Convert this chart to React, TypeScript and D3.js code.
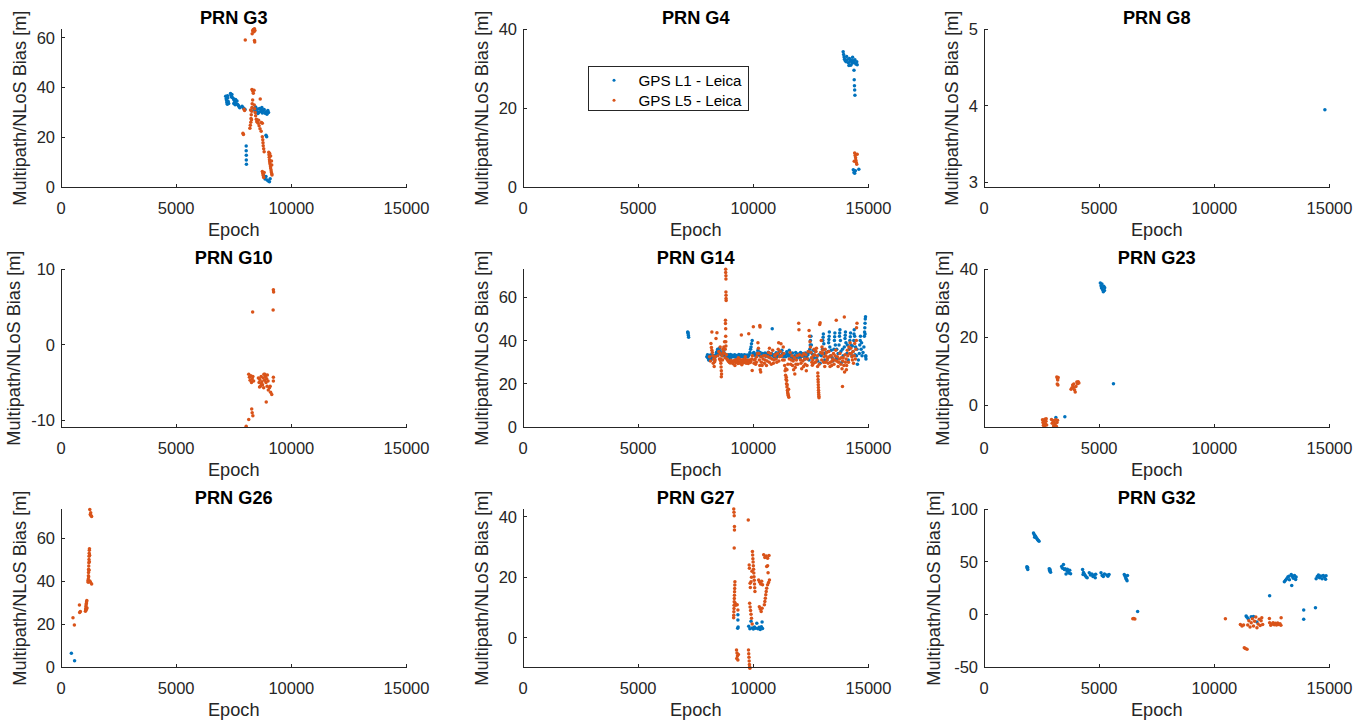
import React from "react";
import * as d3 from "d3";

const W = 1367;
const H = 726;
const FONT = "'Liberation Sans', Arial, Helvetica, sans-serif";
const AXIS = "#262626";
const L1_COLOR = "#0072BD";
const L5_COLOR = "#D95319";

type Pt = [number, number];

// ---- satellite titles, axis limits and ticks ----
const panelTitles = ["PRN G3", "PRN G4", "PRN G8", "PRN G10", "PRN G14", "PRN G23", "PRN G26", "PRN G27", "PRN G32"];
const yDomains: [number, number][] = [
  [0, 63.4], [0, 40], [2.94, 5],
  [-10.9, 10], [0, 73], [-6.3, 40],
  [0, 73.4], [-9.6, 42.4], [-50, 100],
];
const yTickValues = [
  [0, 20, 40, 60], [0, 20, 40], [3, 4, 5],
  [-10, 0, 10], [0, 20, 40, 60], [0, 20, 40],
  [0, 20, 40, 60], [0, 20, 40], [-50, 0, 50, 100],
];
const xDomain: [number, number] = [0, 15000];
const xTickValues = [0, 5000, 10000, 15000];
const seriesNames = ["GPS L1 - Leica", "GPS L5 - Leica"];

// ---- multipath / NLoS bias samples [epoch, metres] ----
const g3L1: Pt[] = [
  [7150, 36.5], [7170, 35.5], [7190, 34.8], [7200, 34], [7220, 33.3], [7240, 35.8], [7260, 34.4], [7280, 33.6], [7230, 36.7],
  [7360, 37.6], [7380, 36.8], [7400, 36.2], [7420, 37.2], [7450, 35.9],
  [7490, 35.5], [7520, 34.9], [7550, 34.2], [7580, 35.2], [7610, 33.5], [7640, 34.6], [7670, 33.2], [7700, 32.8], [7730, 32.3], [7760, 31.9], [7500, 33.6], [7560, 33.1],
  [7860, 32.5], [7900, 32], [7950, 31.5], [7990, 31.2],
  [8040, 16.5], [8040, 14.6], [8045, 12.8], [8045, 10.9], [8050, 9.1],
  [8370, 31.5], [8420, 30.8], [8460, 31.8], [8500, 30.2], [8540, 31.3], [8580, 30], [8620, 31.6], [8660, 30.4], [8700, 31], [8740, 29.8],
  [8780, 30.6], [8820, 31.2], [8860, 29.6], [8900, 30.3], [8940, 29.2], [8980, 30.8], [9010, 30], [8450, 32.2], [8550, 29.5], [8720, 32],
  [8900, 20.8], [8930, 20.2],
  [8800, 4.6], [8830, 3.9], [8860, 3.2], [8900, 4.2], [8950, 2.8], [9000, 2.4], [9050, 2.1], [9080, 3.3],
];
const g3L5: Pt[] = [
  [8300, 61.6], [8320, 62.8], [8350, 63.3], [8380, 62.4], [8400, 63.6], [8420, 62.9], [8000, 59.1], [8400, 58.9], [8410, 58.3],
  [8290, 39.2], [8320, 38.6], [8350, 37.7], [8380, 38.9], [8650, 35.4],
  [8320, 35], [8300, 33.5], [8290, 32], [8280, 30.5], [8260, 29], [8250, 27.5], [8240, 26], [8220, 24.8], [8200, 23.6], [8230, 31], [8270, 27],
  [8390, 33], [8410, 31.5], [8430, 30], [8450, 28.6], [8480, 27.2], [8500, 26.2],
  [8520, 26.9], [8560, 25.6], [8600, 24.6], [8640, 23.4], [8690, 22.4], [8580, 26.8], [8700, 25.9], [8740, 25.6],
  [7900, 21.6], [7920, 21.1], [7950, 31.3], [7970, 30.8],
  [8740, 20.2], [8760, 19], [8770, 17.8], [8780, 16.6], [8800, 15.4], [8820, 14.2],
  [9020, 14], [9030, 13], [9040, 12], [9050, 11], [9060, 10.2], [9070, 9.3], [9090, 8.4], [9100, 7.6], [9120, 6.8], [9130, 6], [9150, 5.3], [9160, 4.8],
  [9060, 13.5], [9100, 12.5], [9140, 10.5], [9150, 8.8],
  [8740, 6.2], [8760, 5.4], [8780, 4.6], [8800, 3.8], [8820, 5.8],
];

const g4L1: Pt[] = [
  [13900, 34.3], [13920, 33.6], [13940, 33], [13960, 32.4], [13990, 32], [14030, 31.8], [14080, 32.3], [14130, 31.5], [14170, 32.6], [14210, 31.9],
  [14250, 32.2], [14290, 31.4], [14330, 32], [14370, 31.6], [14410, 32.3], [14450, 31.2], [14490, 31.8], [14510, 31], [14050, 33.1], [14150, 30.8],
  [14230, 30.9], [14310, 32.9],
  [14370, 29.6], [14380, 27.2], [14390, 25.7], [14400, 24.6], [14410, 23.3],
  [14340, 4.4], [14370, 3.7], [14400, 3.5], [14430, 4.1], [14580, 4.5],
];
const g4L5: Pt[] = [
  [14400, 8.6], [14420, 8], [14440, 7.4], [14450, 6.8], [14470, 6.2], [14490, 5.8], [14510, 8.3], [14380, 6.5],
];

const g8L1: Pt[] = [[14800, 3.95]];
const g8L5: Pt[] = [];

const g10L1: Pt[] = [];
const g10L5: Pt[] = [
  [9220, 7.3], [9230, 7.0], [9210, 4.6], [8320, 4.35],
  [8150, -3.9], [8180, -4.3], [8210, -4.7], [8240, -4.1], [8270, -5], [8300, -4.5], [8330, -4.2], [8360, -4.8],
  [8570, -4.4], [8600, -5], [8630, -4.6], [8660, -5.5], [8690, -4.2], [8720, -4.9], [8750, -5.3], [8780, -4.4], [8810, -3.9], [8840, -4.7],
  [8870, -4.2], [8900, -5], [8930, -4.5], [8960, -4], [8990, -4.8], [8620, -5.6], [8700, -5.2], [8800, -5.7], [8850, -3.9],
  [8950, -5.5], [9000, -6], [9050, -5.7], [9100, -6.3], [9150, -6.6], [9080, -5.5],
  [8910, -7.6], [9220, -4.3], [9220, -4.8],
  [8280, -8.5], [8300, -9], [8330, -9.4], [8150, -9.9], [8040, -10.8],
];

const g14L1: Pt[] = [
  [7150, 44], [7170, 43.2], [7180, 42.4], [7190, 41.6], [7160, 43.8],
  [7980, 32.5], [8040, 31.8], [8100, 33.2], [8160, 32.1], [8220, 31.5], [8280, 33], [8340, 32.4], [8400, 34.5], [8450, 36], [8500, 33.8],
  [8560, 35.2], [8620, 33.4], [8680, 34], [8740, 33.1], [8800, 32.6], [8860, 32.2], [8920, 33.5], [8980, 32.8], [9040, 32.3], [9100, 33.2],
  [9160, 32.9], [9220, 32.4], [9280, 33.1], [9340, 32.7], [9400, 33.3], [9460, 32.5], [9520, 33], [9580, 32.6], [9640, 33.2], [9700, 32.8],
  [9760, 32.4], [9820, 33.5], [9880, 36], [9920, 38.5], [9950, 40], [9980, 34],
  [8060, 31], [8120, 30.8], [9000, 31.4], [9300, 31.8],
  [8010, 33.4], [8070, 32.6], [8130, 32], [8190, 33.6], [8250, 32.3], [8310, 31.9], [8370, 33.5], [8430, 35], [8470, 34.2], [8530, 36.5],
  [8590, 34.3], [8650, 33], [8710, 35], [8770, 33.8], [8830, 33.4], [8890, 33], [8950, 32.4], [9010, 33.6], [9070, 32.9], [9130, 32.5],
  [9190, 33.5], [9250, 33], [9310, 32.6], [9370, 33.6], [9430, 32.9], [9490, 33.4], [9550, 32.8], [9610, 33.5], [9670, 32.6], [9730, 33.3],
  [9790, 33], [9850, 34.5], [9900, 37],
  [10050, 33.5], [10120, 32.8], [10200, 35.5], [10260, 33.2], [10330, 32.6], [10400, 34], [10470, 33.1], [10540, 32.7], [10610, 33.8],
  [10680, 32.5], [10750, 33.3], [10820, 45.5], [10880, 32.8], [10950, 33.6], [11020, 32.4], [11100, 34.2], [11170, 33], [11240, 35.5],
  [11310, 32.6], [11380, 33.4], [11450, 34.8], [11520, 32.9], [11600, 33.7], [11670, 32.3], [11740, 31.5], [11810, 33], [11880, 32.2],
  [11950, 33.8], [12020, 31.8], [12090, 32.6], [12160, 34], [12230, 31.4], [12300, 32.8], [12370, 33.5],
  [10020, 34.5], [10090, 33.4], [10160, 34.2], [10230, 33.7], [10300, 34.5], [10370, 32.9], [10440, 33.6], [10510, 34.3], [10580, 33.2],
  [10650, 34.6], [10720, 32.2], [10790, 34], [10850, 33.5], [10920, 32.4], [10990, 34.4], [11060, 33.2], [11130, 35], [11200, 32.8],
  [11270, 34], [11340, 33], [11410, 32.5], [11480, 33.9], [11560, 35.5], [11630, 32.8], [11700, 34.2], [11770, 32.8], [11840, 34.5],
  [11910, 33.2], [11980, 32.9], [12050, 34.5], [12120, 33.3], [12190, 32.7], [12260, 34.2], [12330, 31.9], [12400, 34.5],
  [12450, 36], [12480, 40], [12500, 42], [12520, 38], [12470, 38], [12420, 31], [12560, 33.8], [12600, 35.5], [12640, 32],
  [12700, 35], [12750, 32], [12800, 30.5], [12850, 33.5], [12900, 29.5], [12950, 33],
  [13000, 36], [13020, 40], [13040, 43], [13060, 38.5], [13080, 34], [13030, 41.5], [13100, 31], [13150, 34.5],
  [13200, 31], [13250, 35], [13270, 39], [13290, 42], [13300, 44], [13320, 37], [13350, 33], [13280, 40.5], [13380, 35.5], [13420, 32],
  [13450, 30.5], [13500, 36], [13520, 40], [13540, 43.5], [13560, 38], [13600, 32], [13530, 41.8], [13620, 36], [13650, 31.5],
  [13680, 34], [13720, 38], [13740, 42], [13760, 45], [13780, 40], [13800, 35], [13840, 30], [13750, 43.5], [13870, 36],
  [13900, 33], [13950, 37], [13980, 41], [14000, 44], [14020, 39], [14060, 34], [13990, 42.5], [14080, 38],
  [14120, 31], [14160, 36], [14190, 40], [14220, 43.5], [14240, 38], [14280, 33], [14210, 41.8], [14300, 37.5],
  [14330, 35], [14360, 40], [14380, 45], [14400, 42], [14440, 37], [14480, 33], [14520, 29], [14560, 31], [14370, 43], [14420, 33.5], [14500, 36],
  [14620, 38], [14650, 42], [14680, 36], [14720, 33], [14600, 34], [14640, 40], [14700, 39], [14760, 34.5], [14800, 37],
  [14820, 42], [14830, 44], [14840, 46], [14850, 48], [14860, 50], [14870, 51], [14850, 43],
  [14880, 33], [14890, 31.5], [14880, 32.5],
];
const g14L5: Pt[] = [
  [8800, 73], [8800, 71.5], [8810, 70], [8810, 68.5], [8810, 62.5], [8815, 61], [8815, 59.5], [8820, 58.5], [8790, 49.4], [8790, 47.9],
  [8800, 45.5], [8800, 42], [8805, 39.5], [8810, 37.5], [8780, 36],
  [8200, 44], [8420, 43.6], [8380, 41], [8160, 38.6], [8180, 36.8], [8200, 35.5],
  [8240, 33], [8280, 31.5], [8320, 30.2], [8350, 32.5], [8300, 28], [8260, 29.5],
  [8100, 32.5], [8140, 30.5], [8220, 34.5], [8340, 31], [8460, 33], [8500, 35], [8530, 31.5], [8660, 31], [8740, 34], [8770, 32],
  [8830, 33.5], [8850, 31.5],
  [8560, 34], [8580, 31.5], [8590, 29.5], [8600, 27.8], [8610, 26], [8620, 24.5], [8610, 23.3], [8570, 30.8], [8640, 33], [8700, 34.5],
  [8720, 37], [8750, 39.5], [8680, 36], [8560, 37],
  [8880, 31], [8940, 30.2], [9000, 29.6], [9060, 30.6], [9120, 29.3], [9180, 30.8], [9240, 29.9], [9300, 31.2], [9360, 30.3], [9420, 29.5],
  [9480, 31], [9540, 30.4], [9600, 29.8], [9660, 31.3], [9720, 30.1], [9780, 29.4], [9840, 31], [9900, 30.5], [9200, 28.5], [9500, 28.8],
  [9350, 32], [9650, 32.5],
  [8910, 30.6], [8970, 29.9], [9030, 30.9], [9090, 29.7], [9150, 30.2], [9210, 31], [9270, 30.5], [9330, 29.4], [9390, 31.5], [9450, 30],
  [9510, 29.3], [9570, 31.2], [9630, 30.6], [9690, 29.5], [9750, 30.9], [9810, 30.2], [9870, 29.8], [9930, 31.5],
  [9480, 42.6], [9800, 43.2], [9950, 26.1], [10000, 46.4], [9960, 33],
  [10050, 31], [10100, 29], [10150, 32.5], [10200, 39], [10220, 36.5], [10240, 34], [10260, 31], [10280, 28.5], [10300, 26.5], [10320, 25.5],
  [10350, 30], [10280, 47], [10290, 46.3],
  [10030, 29.5], [10080, 31.5], [10130, 30], [10180, 34], [10330, 32.5], [10380, 28.5], [10450, 33], [10510, 31], [10570, 28.5], [10630, 32.5],
  [10690, 30], [10750, 34], [10810, 31.5], [10870, 29.5], [10930, 33], [10990, 31.5], [11050, 34], [11110, 30.5], [11170, 35], [11230, 33],
  [11270, 31],
  [10420, 31.5], [10480, 29.5], [10540, 33], [10600, 30.5], [10660, 34.5], [10720, 32], [10780, 29], [10840, 35.5], [10900, 31], [10960, 33.5],
  [11020, 30], [11080, 36], [11140, 32.5], [11200, 38.5], [11100, 39], [10700, 36.5],
  [11300, 37], [11320, 34], [11340, 31], [11360, 28.5], [11380, 26], [11400, 24], [11420, 22], [11440, 20], [11460, 18.5], [11480, 17],
  [11500, 15.5], [11520, 14.5], [11540, 13.8], [11460, 26.5], [11500, 29],
  [11410, 27], [11430, 23], [11450, 21.5], [11470, 19.5], [11490, 16.2], [11510, 14.8], [11530, 17.5],
  [11650, 31], [11700, 28.5], [11750, 26.5], [11800, 24.5], [11850, 29], [11900, 33], [11970, 48], [11980, 45], [12050, 31], [12100, 27],
  [12150, 30.5], [12200, 34], [12250, 29], [12300, 26], [12350, 31.5],
  [11560, 31.5], [11600, 34.5], [11620, 29], [11680, 33], [11730, 30.5], [11780, 32], [11820, 27.5], [11870, 31], [11930, 29], [12000, 33.5],
  [12070, 29.5], [12120, 33], [12180, 28], [12230, 31.5], [12280, 33.5], [12330, 28.5], [12380, 35],
  [12420, 44.7], [12440, 42], [12460, 39.5], [12480, 37], [12500, 34.5], [12520, 32], [12540, 30], [12560, 28.6], [12600, 33], [12640, 36],
  [12580, 31], [12620, 29.5], [12660, 33.5], [12700, 30], [12740, 36.5],
  [12720, 35], [12760, 31], [12790, 28], [12800, 25], [12810, 22], [12820, 19.5], [12830, 17], [12840, 15], [12850, 13.5], [12780, 33],
  [12805, 23.5], [12815, 20.8], [12825, 18.3], [12835, 16], [12845, 14.2],
  [12860, 29], [12900, 48.2], [12880, 47.5],
  [12950, 40], [12980, 37], [13000, 34], [13050, 30], [13100, 28], [13150, 33], [13200, 31], [13250, 29.5], [13300, 32.5], [13350, 30],
  [13400, 28.5], [13120, 36],
  [12920, 34.5], [12970, 31], [13020, 35.5], [13070, 32.5], [13130, 30], [13180, 34.5], [13230, 32], [13280, 35], [13330, 28], [13380, 33],
  [13420, 30.5], [13480, 34], [13530, 31], [13580, 35.5], [13650, 32.5], [13700, 30], [13760, 34], [13820, 32], [13880, 30.5], [13930, 28.5],
  [13980, 33.5], [14030, 31.5], [14080, 35.5], [14130, 30], [14180, 34], [14230, 36.5], [14280, 32.5], [14330, 35], [14350, 29.5], [14380, 33],
  [14430, 31.5], [14470, 40],
  [13450, 31.5], [13500, 29], [13550, 33], [13600, 49.4], [13620, 30.5], [13680, 28], [13740, 31.5], [13800, 29], [13870, 18.8], [13850, 27],
  [13900, 32], [13950, 50.9], [13960, 25.5], [14000, 30], [14050, 28.5], [14100, 33], [14150, 37], [14200, 39], [14250, 34], [14300, 31],
  [14400, 38.6], [14450, 36], [14500, 48], [14480, 46], [14040, 26.5],
];

const g23L1: Pt[] = [
  [5050, 36], [5080, 35.2], [5100, 34.5], [5120, 35.7], [5150, 34], [5180, 33.4], [5200, 35], [5230, 33.8], [5240, 34.6],
  [5620, 6.4], [3510, -3.3], [3120, -3.5],
];
const g23L5: Pt[] = [
  [2540, -4.2], [2560, -5], [2580, -5.8], [2600, -4.5], [2620, -6.1], [2640, -4], [2660, -5.3], [2690, -4.6], [2720, -5.7], [2700, -3.9],
  [2930, -4.1], [2960, -5.2], [2990, -4.4], [3020, -6], [3050, -4.8], [3080, -5.6], [3110, -4.2], [3140, -6.1], [3170, -5], [3190, -4.3],
  [3160, 8.4], [3190, 7.9], [3220, 8.2], [3200, 7.5], [3180, 6.3], [3210, 6],
  [3780, 4.8], [3850, 6], [3880, 5.4], [3900, 6.3], [3930, 4.6], [3960, 4], [3990, 5.6], [4030, 6.9], [4060, 6.4], [4090, 7], [4120, 6.6], [3820, 5.2],
];

const g26L1: Pt[] = [[450, 6.4], [590, 2.9]];
const g26L5: Pt[] = [
  [520, 22.9], [580, 19.5], [800, 28.8], [810, 25.4], [840, 25.8],
  [1060, 26], [1070, 27], [1080, 28], [1090, 28.8], [1100, 29.6], [1110, 30.4], [1120, 31], [1080, 26.5], [1100, 26.8], [1130, 27.5],
  [1180, 39.5], [1185, 41], [1190, 42.5], [1195, 44], [1200, 45.5], [1205, 47], [1210, 48.5], [1215, 50], [1220, 51.5], [1225, 53],
  [1230, 54.3], [1235, 55], [1200, 42], [1215, 45], [1230, 49], [1240, 52],
  [1250, 40], [1280, 39.5], [1330, 38.6], [1170, 40.2],
  [1250, 73.3], [1270, 71], [1300, 70.5], [1330, 70], [1290, 71.8],
];

const g27L1: Pt[] = [
  [9330, 7.6], [9330, 5.9], [9320, 3.2], [9340, 3.6], [9800, 3.8], [9850, 3], [9900, 5.5], [9950, 3.3], [10000, 2.9], [10050, 3.6],
  [10100, 3.2], [10150, 4.8], [10200, 3], [10250, 3.5], [10300, 2.8], [10350, 3.7], [10380, 5.2], [10400, 3.1],
];
const g27L5: Pt[] = [
  [9150, 42.5], [9160, 41.4], [9170, 40.3], [9180, 36.7], [9180, 35.6], [9170, 29.6],
  [9780, 38.9],
  [9200, 18.5], [9195, 17.4], [9190, 16.3], [9185, 15.2], [9180, 14.1], [9175, 13], [9170, 11.9], [9165, 10.8], [9160, 9.7], [9155, 8.6],
  [9150, 7.5], [9145, 6.6], [9210, 11.5], [9230, 10.8],
  [9300, 10.9], [9330, 9.2],
  [9270, -4], [9290, -5], [9310, -6], [9330, -7.3], [9350, -5.5], [9280, -6.8],
  [9790, -4], [9800, -5.2], [9810, -6.4], [9820, -7.6], [9830, -8.8], [9850, -10], [9840, -9.5],
  [9960, 28.5], [9970, 27.3], [9980, 26.1], [9990, 25], [10000, 23.8], [10010, 22.6], [10020, 21.4], [10030, 20.2], [10040, 19], [10050, 17.8],
  [10060, 16.5], [10070, 15.3], [9940, 22], [9920, 20], [9900, 18.5],
  [9820, 24], [9830, 23], [9860, 18], [9870, 16.6],
  [9840, 11.4], [9860, 10.2], [9880, 9], [9900, 7.8], [9920, 6.5], [9950, 4.6],
  [10230, 19.1], [10270, 18.4], [10320, 17.8], [10360, 18.7], [10400, 17.5],
  [10260, 10.3], [10300, 9.5], [10340, 8.7], [10380, 9.8],
  [10450, 27.4], [10500, 26.5], [10560, 27], [10620, 26.3], [10680, 27.2], [10580, 23.5],
  [10480, 10.9], [10500, 12], [10520, 13.1], [10540, 14.2], [10560, 15.3], [10580, 16.4], [10620, 17.5], [10660, 18.3], [10700, 19.1],
  [10640, 21.5], [10620, 23.8],
];

const g32L1: Pt[] = [
  [1860, 45.3], [1880, 44], [1900, 42.7], [1890, 44.8],
  [2150, 77.5], [2180, 76], [2210, 75], [2240, 74.2], [2270, 73], [2300, 72], [2330, 71], [2360, 70.3], [2390, 69.6], [2200, 73.5],
  [2830, 43.4], [2850, 42], [2870, 41], [2890, 40.2], [2860, 43],
  [3370, 45.5], [3410, 44], [3450, 47.5], [3490, 42.7],
  [3520, 43.4], [3560, 38.5], [3600, 41.5], [3640, 40.5], [3680, 39.5], [3720, 42], [3760, 38.8], [3620, 43],
  [4280, 42.7], [4320, 40], [4360, 38.2], [4400, 36.8], [4440, 35.5], [4480, 34.8], [4300, 38],
  [4570, 39.6], [4620, 37.5], [4680, 38.5], [4730, 36], [4780, 37.5], [4830, 35], [4850, 38.2],
  [5080, 39.6], [5130, 37], [5180, 36], [5230, 38.5], [5330, 37.5], [5380, 36.3], [5430, 38],
  [6090, 38], [6120, 36.5], [6150, 35], [6180, 33.5], [6210, 32], [6230, 37],
  [6670, 2.8],
  [11380, -1.6], [11420, -2.6], [11470, -4.1], [11600, -2.2], [11700, -2], [11850, -7.3],
  [12400, 17.7],
  [13040, 31], [13090, 32.5], [13140, 34], [13190, 35.5], [13240, 36.4], [13260, 33],
  [13340, 38], [13390, 36], [13430, 34.5], [13480, 37], [13530, 33.2], [13550, 35.5], [13360, 27.5],
  [13880, 4.1], [13880, -4.7], [14390, 6.3],
  [14420, 34], [14470, 36], [14520, 37.5], [14570, 35], [14620, 36.5], [14680, 34], [14730, 37], [14780, 35.5], [14830, 33.5], [14850, 36.8],
];
const g32L5: Pt[] = [
  [6460, -4.1], [6500, -3.8], [6550, -4.3],
  [10480, -4.1],
  [11130, -9.5], [11200, -11], [11270, -10],
  [11300, -31.6], [11350, -32.5], [11420, -33.2],
  [11450, -10], [11500, -6], [11550, -12], [11600, -8], [11650, -4], [11700, -11], [11750, -6.5], [11800, -2.5], [11850, -12.7], [11900, -9],
  [11950, -4.5], [11990, -10.5], [12030, -6], [12060, -3.2], [12100, -9.5],
  [12390, -3.8], [12400, -8], [12450, -10.4], [12500, -9], [12550, -7.9], [12600, -9.8], [12650, -8.5], [12700, -10], [12750, -8.2],
  [12800, -9.6], [12850, -8.8], [12900, -3.2], [12890, -10.2],
];

const l1Series = [g3L1, g4L1, g8L1, g10L1, g14L1, g23L1, g26L1, g27L1, g32L1];
const l5Series = [g3L5, g4L5, g8L5, g10L5, g14L5, g23L5, g26L5, g27L5, g32L5];

// ---- layout ----
const colLeft = [61, 523, 984];
const rowTop = [29.3, 269.3, 509.3];
const plotW = 345.5;
const plotH = 157.7;
const TICK_FS = 16.5;
const LABEL_FS = 18.2;
const TICK_LEN = 3.5;
const DOT_R = 1.75;

// approximate label width in Liberation Sans (digits 0.556em, hyphen 0.333em)
function labelWidth(s: string, fs: number) {
  let w = 0;
  for (const ch of s) w += ch === "-" ? 0.333 : 0.556;
  return w * fs;
}

function Panel({ index }: { index: number }) {
  const col = index % 3;
  const row = Math.floor(index / 3);
  const left = colLeft[col];
  const top = rowTop[row];
  const right = left + plotW;
  const bottom = top + plotH;

  const x = d3.scaleLinear().domain(xDomain).range([left, right]);
  const y = d3.scaleLinear().domain(yDomains[index]).range([bottom, top]);
  const yTicks = yTickValues[index];
  const maxW = Math.max(...yTicks.map((t) => labelWidth(String(t), TICK_FS)));
  const ylabelX = left - 6 - maxW - 10.8;
  const cy = (top + bottom) / 2;

  return (
    <g>
      {l1Series[index].map((p, k) => (
        <circle key={"a" + k} cx={x(p[0])} cy={y(p[1])} r={DOT_R} fill={L1_COLOR} />
      ))}
      {l5Series[index].map((p, k) => (
        <circle key={"b" + k} cx={x(p[0])} cy={y(p[1])} r={DOT_R} fill={L5_COLOR} />
      ))}
      <g stroke={AXIS} strokeWidth={1} shapeRendering="crispEdges">
        <line x1={left} y1={top} x2={left} y2={bottom} />
        <line x1={left} y1={bottom} x2={right} y2={bottom} />
        {xTickValues.map((t) => (
          <line key={"xt" + t} x1={x(t)} x2={x(t)} y1={bottom} y2={bottom - TICK_LEN} />
        ))}
        {yTicks.map((t) => (
          <line key={"yt" + t} x1={left} x2={left + TICK_LEN} y1={y(t)} y2={y(t)} />
        ))}
      </g>
      <g fontFamily={FONT} fontSize={TICK_FS} fill={AXIS}>
        {xTickValues.map((t) => (
          <text key={"xl" + t} x={x(t)} y={bottom + 26.5} textAnchor="middle">
            {String(t)}
          </text>
        ))}
        {yTicks.map((t) => (
          <text key={"yl" + t} x={left - 6} y={y(t)} dy="0.36em" textAnchor="end">
            {String(t)}
          </text>
        ))}
      </g>
      <text x={(left + right) / 2} y={bottom + 49} textAnchor="middle" fontFamily={FONT} fontSize={LABEL_FS} fill={AXIS}>
        Epoch
      </text>
      <text
        transform={`translate(${ylabelX},${cy}) rotate(-90)`}
        textAnchor="middle"
        fontFamily={FONT}
        fontSize={LABEL_FS}
        fill={AXIS}
      >
        Multipath/NLoS Bias [m]
      </text>
      <text x={(left + right) / 2} y={top - 5.5} textAnchor="middle" fontFamily={FONT} fontSize={LABEL_FS} fontWeight="bold" fill="#000">
        {panelTitles[index]}
      </text>
    </g>
  );
}

function Legend() {
  const bx = 588.5;
  const by = 66.8;
  const bw = 160;
  const bh = 44;
  const rows = [80.2, 100.2];
  const colors = [L1_COLOR, L5_COLOR];
  return (
    <g>
      <rect x={bx} y={by} width={bw} height={bh} fill="#fff" stroke={AXIS} strokeWidth={1} shapeRendering="crispEdges" />
      {seriesNames.map((name, i) => (
        <g key={name}>
          <circle cx={614} cy={rows[i]} r={1.5} fill={colors[i]} />
          <text x={638.5} y={rows[i]} dy="0.36em" fontFamily={FONT} fontSize={15.2} fill="#000">
            {name}
          </text>
        </g>
      ))}
    </g>
  );
}

export default function App() {
  return (
    <div style={{ position: "absolute", left: 0, top: 0 }}>
      <svg width={W} height={H} viewBox={`0 0 ${W} ${H}`} style={{ display: "block" }}>
        <rect x={0} y={0} width={W} height={H} fill="#fff" />
        {panelTitles.map((_, i) => (
          <Panel key={i} index={i} />
        ))}
        <Legend />
      </svg>
    </div>
  );
}
